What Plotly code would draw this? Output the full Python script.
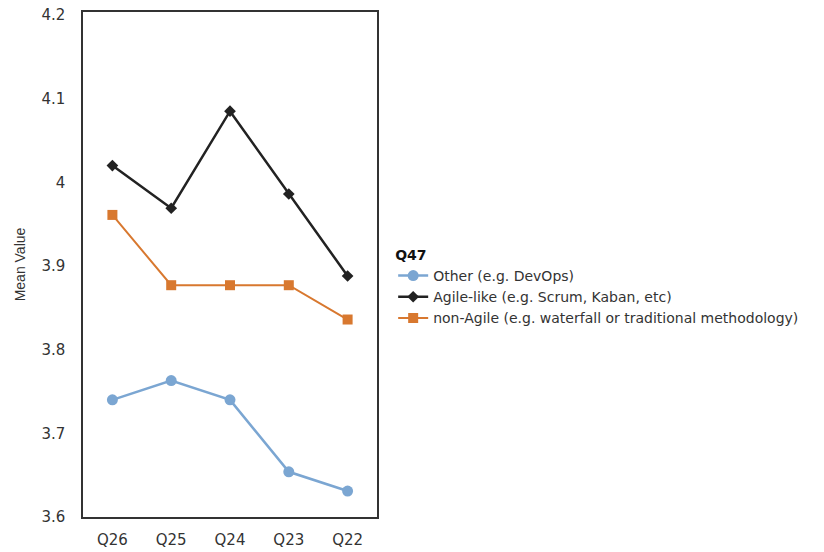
import plotly.graph_objects as go

categories = ["Q26", "Q25", "Q24", "Q23", "Q22"]
other_vals = [3.740, 3.763, 3.740, 3.654, 3.631]
agile_vals = [4.020, 3.969, 4.085, 3.986, 3.888]
nonagile_vals = [3.961, 3.877, 3.877, 3.877, 3.836]
y_ticks = [3.6, 3.7, 3.8, 3.9, 4.0, 4.1, 4.2]
y_tick_text = ["3.6", "3.7", "3.8", "3.9", "4", "4.1", "4.2"]

fig = go.Figure()
fig.add_trace(go.Scatter(
    x=categories, y=other_vals, mode="lines+markers",
    name="Other (e.g. DevOps)",
    line=dict(color="#7BA6D2", width=2.5),
    marker=dict(symbol="circle", size=11, color="#7BA6D2"),
))
fig.add_trace(go.Scatter(
    x=categories, y=agile_vals, mode="lines+markers",
    name="Agile-like (e.g. Scrum, Kaban, etc)",
    line=dict(color="#222222", width=2.5),
    marker=dict(symbol="diamond", size=9, color="#222222"),
))
fig.add_trace(go.Scatter(
    x=categories, y=nonagile_vals, mode="lines+markers",
    name="non-Agile (e.g. waterfall or traditional methodology)",
    line=dict(color="#D8782F", width=2),
    marker=dict(symbol="square", size=10, color="#D8782F"),
))

wide_font = "DejaVu Sans, Verdana, sans-serif"
narrow_font = "Liberation Sans, Arial, sans-serif"
fig.update_layout(
    width=824, height=552,
    margin=dict(l=83, r=447, t=12, b=35),
    paper_bgcolor="white", plot_bgcolor="white",
    font=dict(family=wide_font, size=14, color="#333333"),
    showlegend=True,
    legend=dict(
        title=dict(text="<b>Q47</b>", font=dict(family=wide_font, size=14, color="#111111")),
        x=1.055, xanchor="left", y=0.545, yanchor="top",
        font=dict(family=wide_font, size=14, color="#333333"),
        tracegroupgap=0, itemwidth=30,
        bgcolor="rgba(0,0,0,0)",
    ),
    xaxis=dict(
        type="category", range=[-0.5, 4.5], automargin=False,
        showgrid=False, zeroline=False,
        showline=True, linecolor="#333333", linewidth=1.5, mirror=True,
        ticks="", ticklabelstandoff=8,
        tickfont=dict(family=wide_font, size=15, color="#333333"),
    ),
    yaxis=dict(
        range=[3.6, 4.2035], automargin=False,
        tickvals=y_ticks, ticktext=y_tick_text,
        showgrid=False, zeroline=False,
        showline=True, linecolor="#333333", linewidth=1.5, mirror=True,
        ticks="", ticklabelstandoff=13,
        tickfont=dict(family=wide_font, size=15, color="#333333"),
        title=dict(text="Mean Value", font=dict(family=narrow_font, size=14, color="#333333"), standoff=12),
    ),
)

fig.write_html("out.html", config={"displayModeBar": False},
               post_script="document.body.style.margin='0';")
